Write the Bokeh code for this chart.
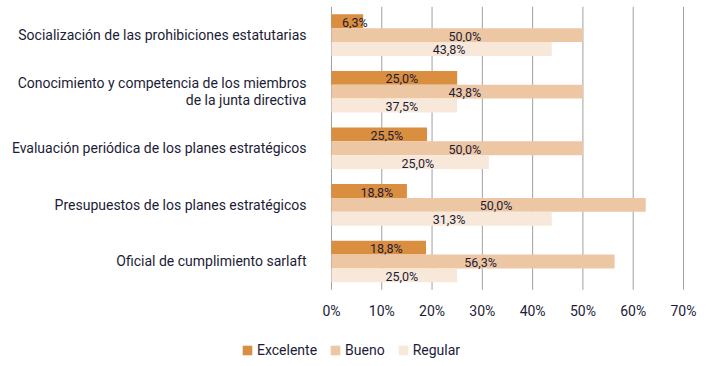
import numpy as np
from bokeh.plotting import figure
from bokeh.models import ColumnDataSource, Legend, LegendItem, Range1d
from bokeh.core.properties import value
from bokeh.embed import file_html
from bokeh.resources import INLINE

categories = [
    "Socialización de las prohibiciones estatutarias",
    "Conocimiento y competencia de los miembros\nde la junta directiva",
    "Evaluación periódica de los planes estratégicos",
    "Presupuestos de los planes estratégicos",
    "Oficial de cumplimiento sarlaft",
]
series = ["Excelente", "Bueno", "Regular"]
# bar lengths as drawn in the picture (%)
excelente = [6.3, 25.0, 19.0, 15.0, 18.8]
bueno = [50.0, 50.0, 50.0, 62.5, 56.3]
regular = [43.8, 25.0, 31.3, 43.8, 25.0]
# printed labels
excelente_lbl = ["6,3%", "25,0%", "25,5%", "18,8%", "18,8%"]
bueno_lbl = ["50,0%", "43,8%", "50,0%", "50,0%", "56,3%"]
regular_lbl = ["43,8%", "37,5%", "25,0%", "31,3%", "25,0%"]
x_ticks = [0, 10, 20, 30, 40, 50, 60, 70]
x_tick_labels = ["0%", "10%", "20%", "30%", "40%", "50%", "60%", "70%"]

colors = ["#D98E40", "#EDC7A4", "#F8E8DA"]
FONT = "Roboto"
TXT = "#1c1c36"

n = len(categories)
ypos = np.arange(n)[::-1].astype(float)
bh = 0.245
offsets = [bh, 0.0, -bh]

# whole canvas is the frame; category labels, tick labels and legend live inside it
p = figure(width=712, height=358, output_backend="svg", toolbar_location=None,
           x_range=Range1d(-65.82, 75.77), y_range=Range1d(-1.714, 4.611),
           min_border=0)
p.outline_line_color = None
p.axis.visible = False
p.grid.visible = False

# vertical grid lines at the tick values
p.segment(x0=x_ticks, x1=x_ticks, y0=-0.5, y1=n - 0.5, line_color="#a0a0a0", line_width=1)

rs = []
for vals, lbls, off, col in zip([excelente, bueno, regular],
                                [excelente_lbl, bueno_lbl, regular_lbl],
                                offsets, colors):
    src = ColumnDataSource(dict(y=ypos + off, right=vals,
                                tx=[v / 2 + 1.5 for v in vals], lbl=lbls))
    r = p.hbar(y="y", left=0, right="right", height=bh, source=src,
               fill_color=col, line_color=None)
    rs.append(r)
    p.text(x="tx", y="y", text="lbl", source=src, text_align="center",
           text_baseline="middle", text_font=value(FONT), text_font_size="12.5px",
           text_color=TXT, y_offset=1)

# category labels
p.text(x=[0] * n, y=list(ypos), text=categories, x_offset=-25,
       text_align="right", text_baseline="middle", text_font=value(FONT),
       text_font_size="14px", text_color=TXT, text_line_height=1.05)

# x tick labels
p.text(x=x_ticks, y=[-0.866] * len(x_ticks), text=x_tick_labels,
       text_align="center", text_baseline="middle", text_font=value(FONT),
       text_font_size="14px", text_color=TXT)

legend = Legend(items=[LegendItem(label=s, renderers=[r]) for s, r in zip(series, rs)],
                orientation="horizontal", location=(241, 0),
                label_text_font=FONT, label_text_font_size="14px", label_text_color=TXT,
                glyph_width=12, glyph_height=12, spacing=12, label_standoff=4,
                border_line_color=None, background_fill_alpha=0, padding=4, margin=0)
p.add_layout(legend, "center")

open("out.html", "w").write(file_html(p, INLINE))
